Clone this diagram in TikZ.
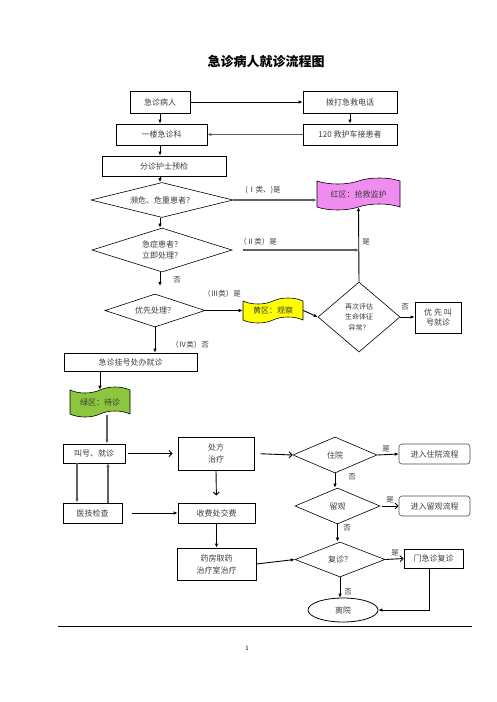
\documentclass[tikz,border=0pt]{standalone}
\usepackage{fontspec}
\setmainfont{Noto Sans CJK SC}
\usetikzlibrary{shapes.geometric,shapes.symbols,arrows.meta}
\definecolor{redzone}{RGB}{240,140,240}
\definecolor{yellowzone}{RGB}{255,255,0}
\definecolor{greenzone}{RGB}{140,198,62}
\definecolor{txtc}{RGB}{60,60,60}
\begin{document}
\begin{tikzpicture}[x=1pt,y=-1pt,
  box/.style={draw, line width=0.8pt, inner sep=0pt, align=center, text=txtc, font=\fontsize{8}{12}\selectfont},
  rbox/.style={box, rounded corners=3pt, draw=black!70, line width=0.6pt},
  dia/.style={draw, diamond, inner sep=0pt, line width=0.6pt},
  txt/.style={inner sep=0pt, align=center, text=txtc, font=\fontsize{8}{12}\selectfont},
  zone/.style={tape, draw, inner sep=0pt, tape bend height=6pt, line width=0.6pt, text=txtc, font=\fontsize{8}{10}\selectfont},
  lbl/.style={inner sep=0pt, text=txtc, font=\fontsize{7.5}{9}\selectfont},
  arr/.style={-{Latex[length=4pt,width=3.5pt]}, line width=0.9pt},
  garr/.style={arr, draw=gray!75!black, line width=1.4pt},
  oarr/.style={-{Straight Barb[length=3pt,width=6pt]}, line width=0.9pt}]
\useasboundingbox (0,0) rectangle (496,702);

% title
\node[inner sep=0pt, font=\fontsize{13}{15}\selectfont\bfseries] (title) at (266,62) {急诊病人就诊流程图};

% top boxes
\node[box, minimum width=60, minimum height=22] (p1) at (160,102) {急诊病人};
\node[box, minimum width=94, minimum height=22] (p2) at (350,102) {拨打急救电话};
\node[box, minimum width=91, minimum height=21] (p3) at (161.5,134.5) {一楼急诊科};
\node[box, minimum width=94, minimum height=21] (p4) at (350,134.5) {120 救护车接患者};
\node[box, minimum width=124, minimum height=20] (p5) at (164,166) {分诊护士预检};

\draw[arr] (p1.east) -- (p2.west);
\draw[arr] (p2.south) -- (p4.north);
\draw[garr] (p4.west) -- (p3.east);
\draw[arr] (p1.south) -- (p1.south |- p3.north);
\draw[arr] (p1.south |- p3.south) -- (p1.south |- p5.north);

% diamonds
\node[dia, minimum width=142, minimum height=35] (d1) at (162,200) {};
\node[txt] (d1t) at (d1) {濒危、危重患者？};
\node[dia, minimum width=140, minimum height=44] (d2) at (162,250) {};
\node[txt, font=\fontsize{8}{10.5}\selectfont] (d2t) at (d2) {急症患者？\\立即处理？};
\node[dia, minimum width=100, minimum height=33] (d3) at (155,310.5) {};
\node[txt] (d3t) at (d3) {优先处理？};
\node[dia, minimum width=82, minimum height=70] (d4) at (359,317) {};
\node[txt, font=\fontsize{7}{10.5}\selectfont] (d4t) at (d4) {再次评估\\生命体征\\异常？};

\draw[arr] (p1.south |- p5.south) -- (p1.south |- d1.north);
\draw[arr] (p1.south |- d1.south) -- (p1.south |- d2.north);
\coordinate (d3top) at (160,286);
\draw[arr] (p1.south |- d2.south) -- (d3top);

% zones
\node[zone, fill=redzone, minimum width=83, minimum height=32] (r1) at (358.5,194) {红区：抢救监护};
\node[zone, fill=yellowzone, minimum width=60, minimum height=25] (y1) at (273,310.5) {黄区：观察};
\node[zone, fill=greenzone, minimum width=60, minimum height=30] (g1) at (100,402) {绿区：待诊};
\node[box, minimum width=46, minimum height=31, font=\fontsize{8}{10.5}\selectfont] (pr) at (438,317.5) {优 先 叫\\号就诊};

\draw[garr] (d1.east) -- (d1.east -| r1.west);
\node[lbl] (l1) at (263,190) {(Ⅰ类、)是};
\coordinate (d2out) at (243,250);
\coordinate (vline) at (359,250);
\draw[garr] (d2out) -- (vline);
\node[lbl] (l2) at (258,242) {（Ⅱ类）是};
\draw[arr] (d4.north) -- (r1.south);
\node[lbl] (l3) at (366,242) {是};
\node[lbl] (l4) at (177,280) {否};

\draw[arr] (d3.east) -- (y1.west);
\node[lbl] (l5) at (222,294) {（Ⅲ类）是};
\draw[arr] (y1.east) -- (d4.west);
\draw[arr] (d4.east) -- (d4.east -| pr.west);
\node[lbl] (l6) at (405,307) {否};

% lower part
\node[box, minimum width=133, minimum height=18] (b1) at (130.5,362) {急诊挂号处办就诊};
\draw[arr] (d3.south) -- (d3.south |- b1.north);
\node[lbl] (l7) at (190,345) {（Ⅳ类）否};
\coordinate (b1g) at (100,371);
\draw[arr] (b1g) -- (g1.north);

\node[box, minimum width=62, minimum height=19] (c1) at (94,453.5) {叫号、就诊};
\node[box, minimum width=76, minimum height=33] (c2) at (216,453.5) {处方\\治疗};
\node[dia, minimum width=84, minimum height=36] (c3) at (335,455) {};
\node[txt] (c3t) at (c3) {住院};
\node[rbox, minimum width=71, minimum height=20] (c4) at (434.5,454) {进入住院流程};
\node[dia, minimum width=85, minimum height=36] (c5) at (337.5,506) {};
\node[txt] (c5t) at (c5) {留观};
\node[rbox, minimum width=71, minimum height=20] (c6) at (434.5,506) {进入留观流程};
\node[box, minimum width=59, minimum height=20] (c7) at (92.5,513) {医技检查};
\node[box, minimum width=77, minimum height=20] (c8) at (216.5,513) {收费处交费};
\node[box, minimum width=79, minimum height=32] (c9) at (216.5,564) {药房取药\\治疗室治疗};
\node[dia, minimum width=90, minimum height=35] (c10) at (340,559.5) {};
\node[txt] (c10t) at (c10) {复诊？};
\node[box, minimum width=59, minimum height=19] (c11) at (433.5,558.5) {门急诊复诊};
\node[draw, ellipse, line width=0.8pt, inner sep=0pt, minimum width=70, minimum height=24, text=txtc, font=\fontsize{8}{10}\selectfont] (c12) at (343,610) {离院};

\coordinate (g1b) at (107,415);
\draw[garr] (g1b) -- (g1b |- c1.north);
\draw[oarr, shorten <=3pt, shorten >=5pt] (c1.east) -- (c1.east -| c2.west);
\draw[oarr, shorten <=6pt] (c2.east) -- (c3.west);
\draw[arr] (c3.east) -- (c4.west);
\node[lbl] (l8) at (386,449) {是};
\draw[arr] (c3.south) -- (c3.south |- c5.north);
\node[lbl] (l9) at (352,477) {否};
\draw[oarr, shorten <=2pt] (c5.east) -- (c5.east -| c6.west);
\node[lbl] (l10) at (390,500) {是};
\draw[arr] (c5.south) -- (c5.south |- c10.north);
\node[lbl] (l11) at (347,528) {否};
\draw[oarr] (c10.east) -- (c11.west);
\node[lbl] (l12) at (395,553) {是};
\draw[arr] (c10.south) -- (c10.south |- c12.north);
\node[lbl] (l13) at (348,592) {否};
\draw[arr] ([xshift=-4]c11.south) |- (c12.east);

\draw[oarr, shorten >=7pt] (c2.south) -- (c8.north);
\draw[arr] (c8.south) -- (c9.north);
\draw[arr] (c9.east) -- (c10.west);
\draw[arr, shorten <=10pt] (c7.east) -- (c8.west);
\coordinate (c1a) at (77,463);
\coordinate (c1b) at (108,463);
\draw[garr] (c1a) -- (c1a |- c7.north);
\draw[garr] (c1b |- c7.north) -- (c1b);

% footer
\coordinate (hl) at (58,626);
\coordinate (hr) at (472,626);
\draw[line width=0.9pt] (hl) -- (hr);
\node[inner sep=0pt, font=\fontsize{6}{7}\selectfont] (pg) at (247,648) {1};
\end{tikzpicture}
\end{document}
